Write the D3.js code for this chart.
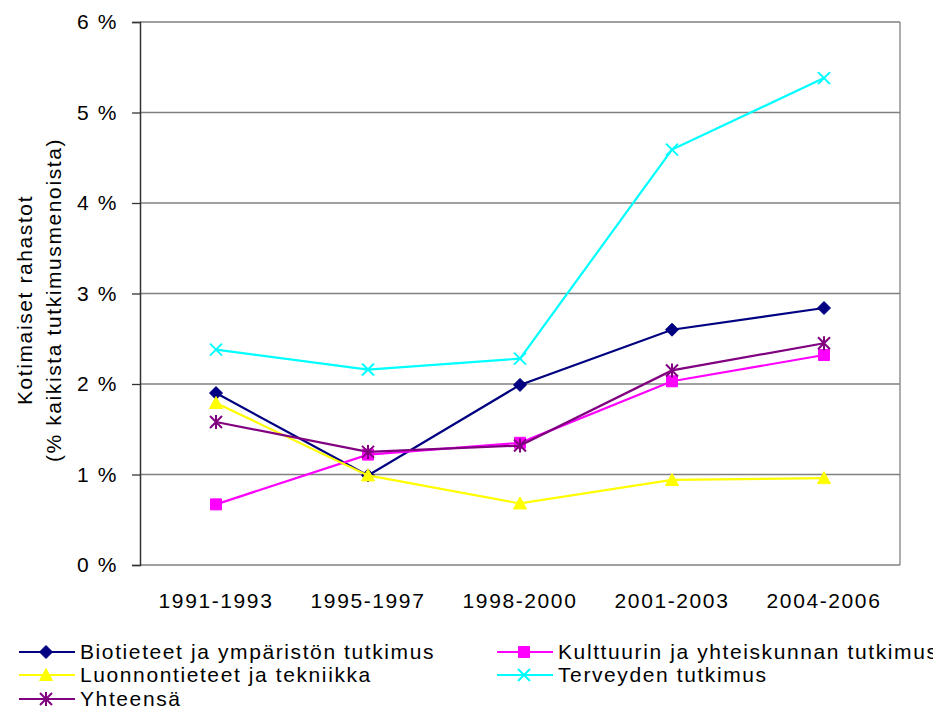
<!DOCTYPE html>
<html lang="fi">
<head>
<meta charset="UTF-8">
<title>Kotimaiset rahastot</title>
<script src="https://cdn.jsdelivr.net/npm/d3@7"></script>
<style>
    body { margin: 0; background: #fff; }
    svg { display: block; }
    text { font-family: "Liberation Sans", Arial, sans-serif; fill: #000; letter-spacing: 1.6px; }
</style>
</head>
<body>
<svg id="chart" width="933" height="711"></svg>
<script>
    // data
    var periods = ["1991-1993", "1995-1997", "1998-2000", "2001-2003", "2004-2006"];
    var yTicks = [0, 1, 2, 3, 4, 5, 6];

    var biotieteet = [1.90, 0.99, 1.99, 2.60, 2.84];
    var kulttuuri = [0.67, 1.22, 1.35, 2.03, 2.32];
    var luonnontieteet = [1.79, 0.99, 0.68, 0.94, 0.96];
    var terveys = [2.38, 2.16, 2.28, 4.59, 5.38];
    var yhteensa = [1.58, 1.25, 1.32, 2.15, 2.45];

    var seriesNames = ["Biotieteet ja ympäristön tutkimus", "Kulttuurin ja yhteiskunnan tutkimus",
        "Luonnontieteet ja tekniikka", "Terveyden tutkimus", "Yhteensä"];
    var seriesColors = ["#000080", "#ff00ff", "#ffff00", "#00ffff", "#800080"];
    var seriesMarkers = ["diamond", "square", "triangle", "cross", "star"];

    var series = [biotieteet, kulttuuri, luonnontieteet, terveys, yhteensa].map(function (vals, i) {
        return {name: seriesNames[i], color: seriesColors[i], marker: seriesMarkers[i], values: vals};
    });

    var plot = {left: 140, right: 900, top: 22, bottom: 565};
    var fontSize = 21;

    var svg = d3.select("#chart");

    var x = d3.scaleBand().domain(periods).range([plot.left, plot.right]);
    var y = d3.scaleLinear().domain([0, 6]).range([plot.bottom, plot.top]);

    // gridlines
    svg.append("g")
        .selectAll("line")
        .data(yTicks)
        .enter().append("line")
        .attr("x1", plot.left).attr("x2", plot.right)
        .attr("y1", function (d) { return y(d); })
        .attr("y2", function (d) { return y(d); })
        .attr("stroke", "#808080")
        .attr("stroke-width", 1.3);

    // right border
    svg.append("line")
        .attr("x1", plot.right).attr("x2", plot.right)
        .attr("y1", plot.top).attr("y2", plot.bottom)
        .attr("stroke", "#808080").attr("stroke-width", 1.3);

    // y axis
    var yAxis = svg.append("g")
        .attr("transform", "translate(" + plot.left + ",0)")
        .call(d3.axisLeft(y).tickValues(yTicks).tickSize(8).tickPadding(14)
            .tickFormat(function (d) { return d + " %"; }));
    yAxis.select(".domain").attr("stroke", "#333").attr("stroke-width", 1.5);
    yAxis.selectAll(".tick line").attr("stroke", "#333").attr("stroke-width", 1.3);
    yAxis.selectAll("text").attr("font-size", fontSize).attr("fill", "#000")
        .attr("font-family", "'Liberation Sans', Arial, sans-serif");

    // x axis labels
    var xAxis = svg.append("g")
        .attr("transform", "translate(0," + plot.bottom + ")")
        .call(d3.axisBottom(x).tickSize(0).tickPadding(28));
    xAxis.select(".domain").remove();
    xAxis.selectAll("text").attr("font-size", fontSize).attr("fill", "#000")
        .attr("font-family", "'Liberation Sans', Arial, sans-serif");

    // y axis title
    var title = svg.append("text")
        .attr("transform", "translate(32,300) rotate(-90)")
        .attr("text-anchor", "middle")
        .attr("font-size", fontSize);
    title.append("tspan").attr("x", 0).attr("dy", 0).text("Kotimaiset rahastot");
    title.append("tspan").attr("x", 0).attr("dy", 29).text("(% kaikista tutkimusmenoista)");

    function markerPath(kind) {
        if (kind === "diamond") return "M0,-6.5L6.5,0L0,6.5L-6.5,0Z";
        if (kind === "square") return "M-5.5,-5.5H5.5V5.5H-5.5Z";
        if (kind === "triangle") return "M0,-6.5L6.5,5.5L-6.5,5.5Z";
        if (kind === "cross") return "M-6,-6L6,6M-6,6L6,-6";
        return "M-6,-6L6,6M-6,6L6,-6M0,-7L0,7";
    }

    function drawMarker(g, s, cx, cy) {
        var filled = s.marker === "diamond" || s.marker === "square" || s.marker === "triangle";
        g.append("path")
            .attr("d", markerPath(s.marker))
            .attr("transform", "translate(" + cx + "," + cy + ")")
            .attr("fill", filled ? s.color : "none")
            .attr("stroke", s.color)
            .attr("stroke-width", filled ? 1 : 2);
    }

    var line = d3.line()
        .x(function (d, i) { return x(periods[i]) + x.bandwidth() / 2; })
        .y(function (d) { return y(d); });

    series.forEach(function (s) {
        var g = svg.append("g");
        g.append("path")
            .datum(s.values)
            .attr("d", line)
            .attr("fill", "none")
            .attr("stroke", s.color)
            .attr("stroke-width", 2.2);
        s.values.forEach(function (v, i) {
            drawMarker(g, s, x(periods[i]) + x.bandwidth() / 2, y(v));
        });
    });

    // legend
    var legendPos = [[19, 652], [497, 652], [19, 675], [497, 675], [19, 699]];
    series.forEach(function (s, i) {
        var g = svg.append("g").attr("transform", "translate(" + legendPos[i][0] + "," + legendPos[i][1] + ")");
        g.append("line").attr("x1", 0).attr("x2", 56).attr("y1", 0).attr("y2", 0)
            .attr("stroke", s.color).attr("stroke-width", 2);
        drawMarker(g, s, 27, 0);
        g.append("text").attr("x", 61).attr("y", 0).attr("dy", "0.35em")
            .attr("font-size", fontSize).text(s.name);
    });
</script>
</body>
</html>
